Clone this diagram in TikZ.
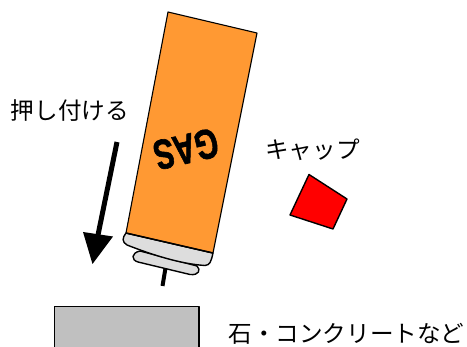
\documentclass[tikz,border=0pt]{standalone}
\usepackage{fontspec}
\newfontfamily\jpfont{Noto Sans CJK JP}
\newfontfamily\gasfont[BoldFont={Liberation Sans Bold},BoldFeatures={FakeBold=1.5}]{Liberation Sans}
\definecolor{canorange}{RGB}{255,153,51}
\definecolor{capgray}{RGB}{221,221,221}
\definecolor{blockgray}{RGB}{192,192,192}
\tikzset{
  lab/.style={inner sep=0pt,font=\jpfont\fontsize{23.6}{28}\selectfont,text=black},
  part/.style={draw=black,line width=1.4pt,line join=round}
}
\begin{document}
\begin{tikzpicture}[x=1pt,y=-1pt]
\useasboundingbox (0,0) rectangle (467,347);
\begin{scope}
\clip (0,0) rectangle (467,347);
\draw[part,fill=blockgray] (54.5,306.5) rectangle (199,360);
\draw[line width=4pt] (165.5,268) -- (162.5,286);
\draw[part,fill=capgray] (140,251) .. controls (131,253) and (131,260) .. (138,262) -- (190,274.5) .. controls (199,275.5) and (201,270) .. (197,266) -- cycle;
\draw[part,fill=capgray] (126,233) .. controls (122,238) and (122,242) .. (127,245) .. controls (150,254) and (180,264) .. (205,265.5) .. controls (210,265) and (211,262) .. (213,253) -- cycle;
\draw[part,fill=canorange,line width=1.1pt] (168,12) -- (257,33) -- (213,253) -- (126,233) -- cycle;
\draw[line width=1.5pt] (126,233) -- (213,253);
\draw[line width=5pt] (117,142) -- (98,235);
\fill (83,232) -- (113,236.5) -- (92.5,264) -- cycle;
\draw[part,fill=red] (309,174.5) -- (347,199) -- (333,229) -- (290,215) -- cycle;
\end{scope}
\node[inner sep=0pt,rotate=193,font=\gasfont\bfseries\fontsize{30}{30}\selectfont] (gas) at (186,149) {\scalebox{1}[1.4]{GAS}};
\node[lab] (push) at (70,110.5) {押し付ける};
\node[lab] (cap) at (312.5,150) {キャップ};
\node[lab] (stone) at (346.5,333.5) {石・コンクリートなど};
\end{tikzpicture}
\end{document}
